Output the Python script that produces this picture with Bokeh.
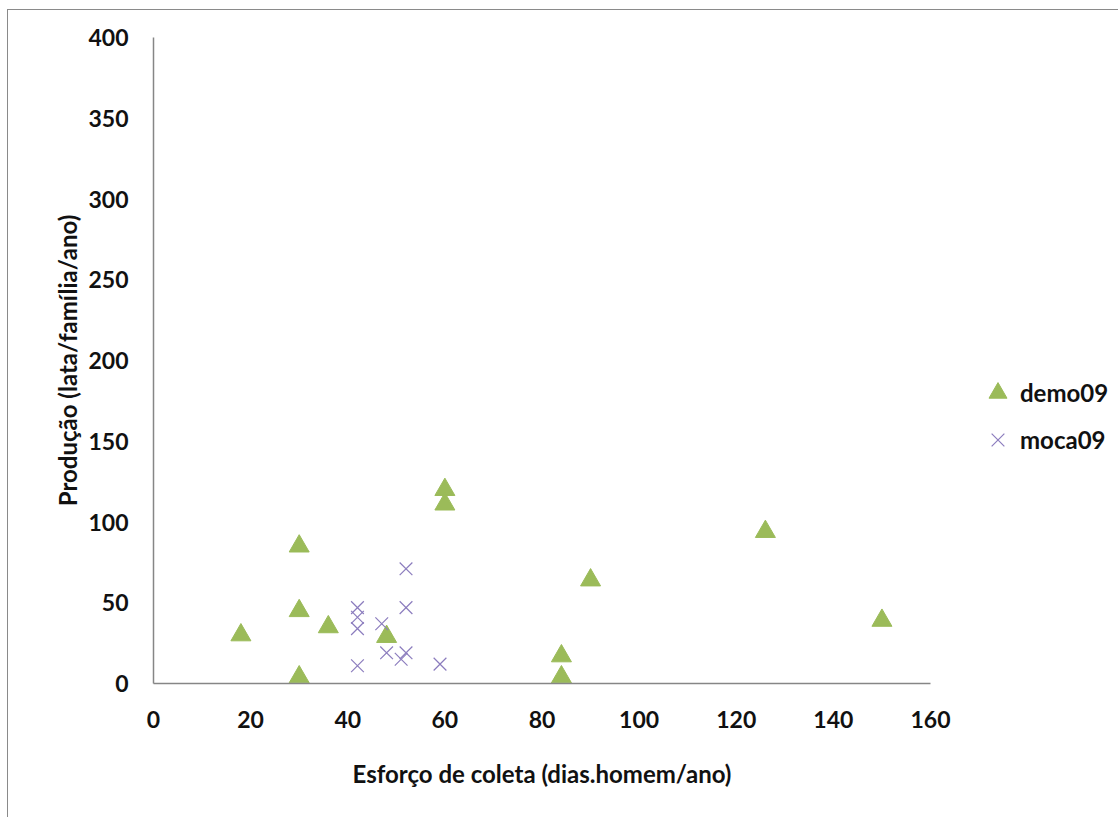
from bokeh.plotting import figure
from bokeh.models import Range1d, Legend, LegendItem, FixedTicker
from bokeh.embed import file_html
from bokeh.resources import INLINE

# demo09 series: collection effort vs. production
demo09_x = [18, 30, 30, 30, 36, 48, 60, 60, 84, 84, 90, 126, 150]
demo09_y = [30, 85, 45, 4, 35, 29, 120, 111, 17, 4, 64, 94, 39]

# moca09 series
moca09_x = [42, 42, 42, 42, 47, 48, 52, 52, 52, 51, 59]
moca09_y = [47, 41, 34, 11, 37, 19, 71, 47, 19, 15, 12]

x_ticks = [0, 20, 40, 60, 80, 100, 120, 140, 160]
y_ticks = [0, 50, 100, 150, 200, 250, 300, 350, 400]

FONT = "Lato"
TEXT = "#111111"
AXIS = "#868686"

p = figure(
    frame_width=777, frame_height=646,
    min_border_left=145, min_border_right=188,
    min_border_top=27, min_border_bottom=134,
    x_range=Range1d(0, 160), y_range=Range1d(0, 400),
    output_backend="svg", toolbar_location=None,
)
p.margin = (9, 0, 0, 7)
p.styles = {"border-left": "1px solid #8a8a8a", "border-top": "1px solid #8a8a8a"}

p.outline_line_color = None
p.grid.visible = False
p.background_fill_color = "white"
p.border_fill_color = "white"

for ax in (p.xaxis[0], p.yaxis[0]):
    ax.axis_line_color = AXIS
    ax.axis_line_width = 1.5
    ax.major_tick_out = 0
    ax.major_tick_in = 0
    ax.minor_tick_out = 0
    ax.minor_tick_in = 0
    ax.major_label_text_font = FONT
    ax.major_label_text_font_style = "bold"
    ax.major_label_text_font_size = "23px"
    ax.major_label_text_color = TEXT
    ax.axis_label_text_font = FONT
    ax.axis_label_text_font_style = "bold"
    ax.axis_label_text_font_size = "24px"
    ax.axis_label_text_color = TEXT

p.xaxis.ticker = FixedTicker(ticks=x_ticks)
p.yaxis.ticker = FixedTicker(ticks=y_ticks)
p.xaxis.major_label_standoff = 27
p.yaxis.major_label_standoff = 25
p.xaxis.axis_label = "Esforço de coleta (dias.homem/ano)"
p.yaxis.axis_label = "Produção (lata/família/ano)"
p.xaxis.axis_label_standoff = 28
p.yaxis.axis_label_standoff = 3

r_demo = p.scatter(demo09_x, demo09_y, marker="triangle", size=20,
                   fill_color="#9BBB59", line_color="#9BBB59")
r_moca = p.scatter(moca09_x, moca09_y, marker="x", size=18,
                   line_color="#8C7DBE", line_width=1.2)

legend = Legend(
    items=[LegendItem(label="demo09", renderers=[r_demo]),
           LegendItem(label="moca09", renderers=[r_moca])],
    location=(45, 221),
    padding=0, margin=0, spacing=2,
    glyph_width=45, glyph_height=45, label_height=20, label_standoff=-15,
    label_text_font=FONT, label_text_font_style="bold",
    label_text_font_size="24px", label_text_color=TEXT,
    border_line_color=None, background_fill_alpha=0,
)
p.add_layout(legend, "right")

open("out.html", "w").write(file_html(p, INLINE))
